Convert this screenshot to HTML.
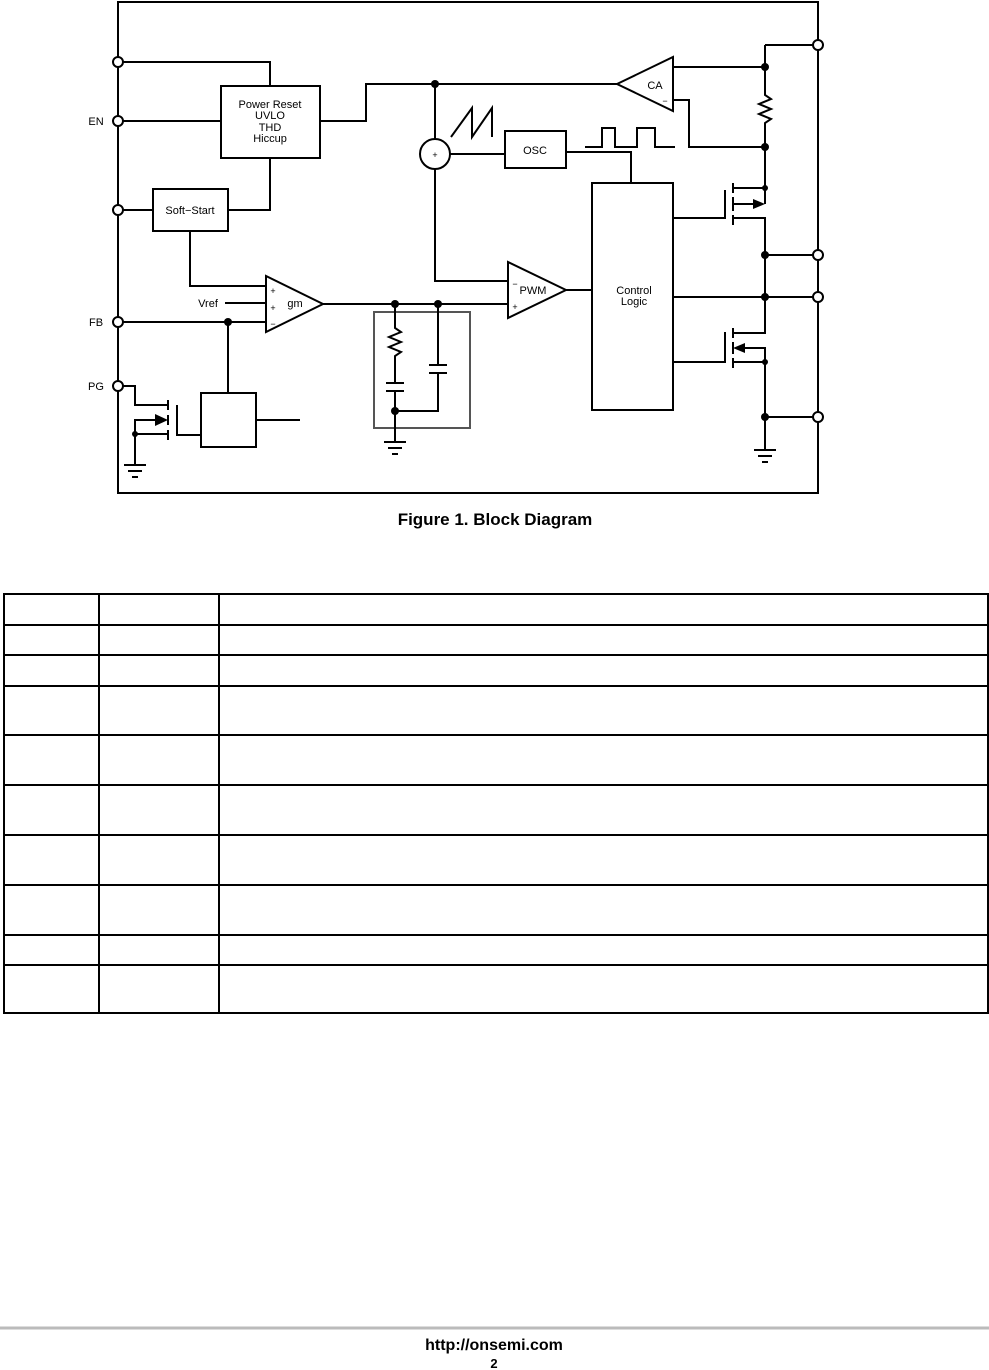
<!DOCTYPE html>
<html><head><style>
html,body{margin:0;padding:0;background:#fff;}
svg{display:block;}
text{font-family:"Liberation Sans",Arial,sans-serif;fill:#000;}
</style></head><body>
<svg width="989" height="1370" viewBox="0 0 989 1370" xmlns="http://www.w3.org/2000/svg">
<g stroke="#000" stroke-width="2" fill="none">
<rect x="118" y="2" width="700" height="491"/>
<!-- left pins wiring -->
<polyline points="118,62 270,62 270,86"/>
<line x1="118" y1="121" x2="221" y2="121"/>
<rect x="221" y="86" width="99" height="72"/>
<polyline points="320,121 366,121 366,84 617,84"/>
<line x1="118" y1="210" x2="153" y2="210"/>
<rect x="153" y="189" width="75" height="42"/>
<polyline points="228,210 270,210 270,158"/>
<polyline points="190,231 190,286 266,286"/>
<polygon points="266,276 266,332 323,304"/>
<line x1="225" y1="303" x2="266" y2="303"/>
<line x1="118" y1="322" x2="266" y2="322"/>
<line x1="228" y1="322" x2="228" y2="393"/>
<rect x="201" y="393" width="55" height="54"/>
<line x1="256" y1="420" x2="300" y2="420"/>
<!-- PG mosfet -->
<polyline points="118,386 135,386 135,405 168,405"/>
<line x1="168" y1="400" x2="168" y2="410"/>
<line x1="168" y1="415" x2="168" y2="425"/>
<line x1="168" y1="430" x2="168" y2="440"/>
<polyline points="177,405 177,435 201,435"/>
<polyline points="135,465 135,420 155,420"/>
<line x1="135" y1="434" x2="168" y2="434"/>
<line x1="124" y1="465" x2="146" y2="465"/>
<line x1="128" y1="471" x2="142" y2="471"/>
<line x1="132" y1="477" x2="138" y2="477"/>
<!-- gm output / comp -->
<line x1="323" y1="304" x2="508" y2="304"/>
<rect x="374" y="312" width="96" height="116" stroke="#555"/>
<polyline points="395,304 395,328 401,332 389,337 401,342 389,347 401,352 395,356 395,383"/>
<line x1="386" y1="383" x2="404" y2="383"/>
<line x1="386" y1="391" x2="404" y2="391"/>
<polyline points="395,391 395,442"/>
<polyline points="395,411 438,411 438,373"/>
<line x1="429" y1="373" x2="447" y2="373"/>
<line x1="429" y1="365" x2="447" y2="365"/>
<line x1="438" y1="304" x2="438" y2="365"/>
<line x1="384" y1="442" x2="406" y2="442"/>
<line x1="388" y1="448" x2="402" y2="448"/>
<line x1="392" y1="454" x2="398" y2="454"/>
<!-- sum / osc -->
<line x1="435" y1="84" x2="435" y2="139"/>
<circle cx="435" cy="154" r="15"/>
<polyline points="435,169 435,281 508,281"/>
<line x1="450" y1="154" x2="505" y2="154"/>
<rect x="505" y="131" width="61" height="37"/>
<polyline points="566,152 631,152 631,183"/>
<polyline points="451,137 472,108 472,137 492,108 492,137"/>
<polyline points="585,147 602,147 602,128 615,128 615,147 637,147 637,128 655,128 655,147 675,147"/>
<polygon points="508,262 508,318 566,290"/>
<line x1="566" y1="290" x2="592" y2="290"/>
<!-- CA -->
<polygon points="617,84 673,57 673,111"/>
<polyline points="673,67 765,67"/>
<polyline points="673,100 689,100 689,147 765,147"/>
<polyline points="765,45 818,45"/>
<polyline points="765,45 765,95 771,99 759,104 771,109 759,114 771,119 765,123 765,204"/>
<rect x="592" y="183" width="81" height="227"/>
<!-- upper mosfet -->
<polyline points="673,218 725,218 725,190"/>
<line x1="733" y1="183" x2="733" y2="193"/>
<line x1="733" y1="197" x2="733" y2="211"/>
<line x1="733" y1="215" x2="733" y2="225"/>
<line x1="733" y1="188" x2="765" y2="188"/>
<line x1="733" y1="204" x2="755" y2="204"/>
<polyline points="733,218 765,218 765,333 733,333"/>
<line x1="765" y1="255" x2="818" y2="255"/>
<line x1="673" y1="297" x2="818" y2="297"/>
<!-- lower mosfet -->
<polyline points="673,362 725,362 725,332"/>
<line x1="733" y1="328" x2="733" y2="338"/>
<line x1="733" y1="342" x2="733" y2="354"/>
<line x1="733" y1="358" x2="733" y2="368"/>
<polyline points="743,348 765,348 765,450"/>
<line x1="733" y1="362" x2="765" y2="362"/>
<line x1="765" y1="417" x2="818" y2="417"/>
<line x1="754" y1="450" x2="776" y2="450"/>
<line x1="758" y1="456" x2="772" y2="456"/>
<line x1="762" y1="462" x2="768" y2="462"/>
</g>
<g fill="#000">
<polygon points="155,414 168,420 155,426"/>
<polygon points="753,199 765,204 753,209"/>
<polygon points="745,343 733,348 745,353"/>
<circle cx="435" cy="84" r="4"/><circle cx="228" cy="322" r="4"/>
<circle cx="395" cy="304" r="4"/><circle cx="438" cy="304" r="4"/>
<circle cx="395" cy="411" r="4"/><circle cx="135" cy="434" r="3"/>
<circle cx="765" cy="67" r="4"/><circle cx="765" cy="147" r="4"/>
<circle cx="765" cy="188" r="3"/><circle cx="765" cy="255" r="4"/>
<circle cx="765" cy="297" r="4"/><circle cx="765" cy="362" r="3"/>
<circle cx="765" cy="417" r="4"/>
</g>
<g fill="#fff" stroke="#000" stroke-width="2">
<circle cx="118" cy="62" r="5"/><circle cx="118" cy="121" r="5"/>
<circle cx="118" cy="210" r="5"/><circle cx="118" cy="322" r="5"/>
<circle cx="118" cy="386" r="5"/><circle cx="818" cy="45" r="5"/>
<circle cx="818" cy="255" r="5"/><circle cx="818" cy="297" r="5"/>
<circle cx="818" cy="417" r="5"/>
</g>
<g font-size="11" text-anchor="middle">
<text x="270" y="108">Power Reset</text>
<text x="270" y="119">UVLO</text>
<text x="270" y="131">THD</text>
<text x="270" y="142">Hiccup</text>
<text x="190" y="214">Soft−Start</text>
<text x="535" y="154">OSC</text>
<text x="655" y="89">CA</text>
<text x="634" y="294">Control</text>
<text x="634" y="305">Logic</text>
<text x="533" y="294">PWM</text>
<text x="295" y="307">gm</text>
<text x="208" y="307">Vref</text>
<text x="96" y="125">EN</text>
<text x="96" y="326">FB</text>
<text x="96" y="390">PG</text>
<text x="435" y="158" font-size="9">+</text>
<text x="273" y="294" font-size="9">+</text>
<text x="273" y="311" font-size="9">+</text>
<text x="273" y="327" font-size="9">−</text>
<text x="515" y="287" font-size="9">−</text>
<text x="515" y="310" font-size="9">+</text>
<text x="665" y="104" font-size="9">−</text>
<text x="495" y="525" font-size="17" font-weight="bold">Figure 1. Block Diagram</text>
<text x="494" y="1350" font-size="16" font-weight="bold">http://onsemi.com</text>
<text x="494" y="1368" font-size="13" font-weight="bold">2</text>
</g>
<g stroke="#000" stroke-width="2">
<rect x="4" y="594" width="984" height="419" fill="none"/>
<line x1="99" y1="594" x2="99" y2="1013"/>
<line x1="219" y1="594" x2="219" y2="1013"/>
<line x1="4" y1="625" x2="988" y2="625"/>
<line x1="4" y1="655" x2="988" y2="655"/>
<line x1="4" y1="686" x2="988" y2="686"/>
<line x1="4" y1="735" x2="988" y2="735"/>
<line x1="4" y1="785" x2="988" y2="785"/>
<line x1="4" y1="835" x2="988" y2="835"/>
<line x1="4" y1="885" x2="988" y2="885"/>
<line x1="4" y1="935" x2="988" y2="935"/>
<line x1="4" y1="965" x2="988" y2="965"/>
</g>
<line x1="0" y1="1328" x2="989" y2="1328" stroke="#bbb" stroke-width="3"/>
</svg>
</body></html>
